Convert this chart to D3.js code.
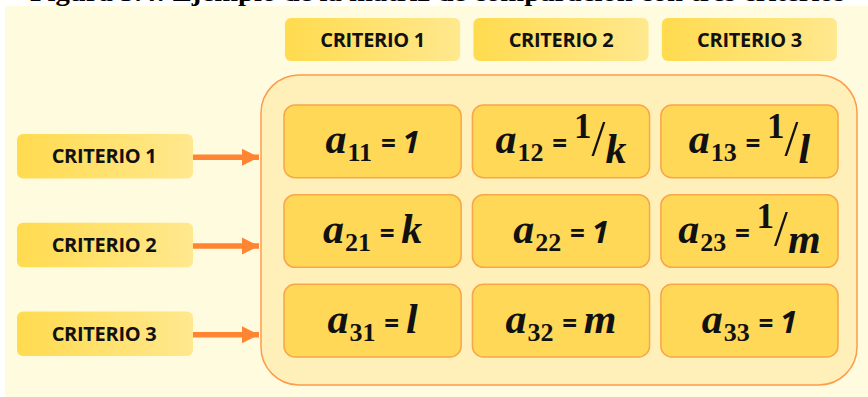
<!DOCTYPE html>
<html>
<head>
<meta charset="utf-8">
<script src="https://cdn.jsdelivr.net/npm/d3@7"></script>
<style>
  body { margin: 0; background: #fff; }
  svg { display: block; }
</style>
</head>
<body>
<div id="vis"></div>
<script>
// criteria names (column headers and row labels)
var criteria = ["CRITERIO 1", "CRITERIO 2", "CRITERIO 3"];

// matrix entries: row index, column index, value (numerator/denominator for fractions)
var cellRows = [1, 1, 1, 2, 2, 2, 3, 3, 3];
var cellCols = [1, 2, 3, 1, 2, 3, 1, 2, 3];
var cellNum  = ["1", "1", "1", "k", "1", "1", "l", "m", "1"];
var cellDen  = [null, "k", "l", null, null, "m", null, null, null];

var title = "Figura 3.4: Ejemplo de la matriz de comparación con tres criterios";

var width = 868, height = 397;

var svg = d3.select("#vis").append("svg")
    .attr("width", width)
    .attr("height", height);

var defs = svg.append("defs");
var grad = defs.append("linearGradient")
    .attr("id", "hdr")
    .attr("x1", "0%").attr("x2", "100%")
    .attr("y1", "0%").attr("y2", "0%");
grad.append("stop").attr("offset", "0%").attr("stop-color", "#ffdb4f");
grad.append("stop").attr("offset", "100%").attr("stop-color", "#ffe88e");

defs.append("marker")
    .attr("id", "arrow")
    .attr("viewBox", "0 0 10 10")
    .attr("refX", 10).attr("refY", 5)
    .attr("markerUnits", "userSpaceOnUse")
    .attr("markerWidth", 17).attr("markerHeight", 18)
    .attr("orient", "auto")
    .append("path")
    .attr("d", "M0,0L10,5L0,10Z")
    .attr("fill", "#ff8533");

// title, mostly cut off by the top edge
svg.append("text")
    .attr("x", 30)
    .attr("y", 1)
    .attr("textLength", 815)
    .attr("lengthAdjust", "spacingAndGlyphs")
    .style("font", "bold 25px 'Liberation Serif'")
    .style("fill", "#000")
    .text(title);

// cream panel
svg.append("rect")
    .attr("x", 5).attr("y", 6)
    .attr("width", width - 5).attr("height", height - 6)
    .attr("fill", "#fffbdf");

// scales
var x = d3.scaleBand()
    .domain([1, 2, 3])
    .range([284, 838])
    .paddingInner(0.06);

var y = d3.scaleBand()
    .domain([1, 2, 3])
    .range([105, 357])
    .paddingInner(0.19);

var yLab = d3.scaleBand()
    .domain([1, 2, 3])
    .range([134, 356])
    .paddingInner(0.5);

// outer rounded box around the matrix
svg.append("rect")
    .attr("x", 261).attr("y", 75)
    .attr("width", 596).attr("height", 310)
    .attr("rx", 38).attr("ry", 38)
    .attr("fill", "#fff0b9")
    .attr("stroke", "#ff9a4a")
    .attr("stroke-width", 1.5);

// column headers
var hdr = svg.selectAll(".hdr")
    .data(criteria)
    .enter().append("g")
    .attr("class", "hdr");

hdr.append("rect")
    .attr("x", function(d, i) { return x(i + 1) + 1; })
    .attr("y", 18)
    .attr("width", x.bandwidth() - 2)
    .attr("height", 43)
    .attr("rx", 6)
    .attr("fill", "url(#hdr)");

hdr.append("text")
    .attr("x", function(d, i) { return x(i + 1) + x.bandwidth() / 2; })
    .attr("y", 40)
    .attr("dy", "0.36em")
    .attr("text-anchor", "middle")
    .style("font", "bold 20px 'Open Sans'")
    .style("letter-spacing", "-0.3px")
    .style("fill", "#111")
    .text(function(d) { return d; });

// row labels with arrows
var lab = svg.selectAll(".lab")
    .data(criteria)
    .enter().append("g")
    .attr("class", "lab");

lab.append("rect")
    .attr("x", 17)
    .attr("y", function(d, i) { return yLab(i + 1); })
    .attr("width", 176)
    .attr("height", yLab.bandwidth())
    .attr("rx", 6)
    .attr("fill", "url(#hdr)");

lab.append("text")
    .attr("x", 104)
    .attr("y", function(d, i) { return yLab(i + 1) + yLab.bandwidth() / 2; })
    .attr("dy", "0.36em")
    .attr("text-anchor", "middle")
    .style("font", "bold 20px 'Open Sans'")
    .style("letter-spacing", "-0.3px")
    .style("fill", "#111")
    .text(function(d) { return d; });

lab.append("line")
    .attr("x1", 193)
    .attr("x2", 259)
    .attr("y1", function(d, i) { return yLab(i + 1) + yLab.bandwidth() / 2 + 1; })
    .attr("y2", function(d, i) { return yLab(i + 1) + yLab.bandwidth() / 2 + 1; })
    .attr("stroke", "#ff8533")
    .attr("stroke-width", 5.5)
    .attr("marker-end", "url(#arrow)");

// matrix cells
var cells = d3.range(cellRows.length).map(function(i) {
    return {r: cellRows[i], c: cellCols[i], num: cellNum[i], den: cellDen[i]};
});

var cell = svg.selectAll(".cell")
    .data(cells)
    .enter().append("g")
    .attr("class", "cell");

cell.append("rect")
    .attr("x", function(d) { return x(d.c); })
    .attr("y", function(d) { return y(d.r); })
    .attr("width", x.bandwidth())
    .attr("height", y.bandwidth())
    .attr("rx", 11)
    .attr("fill", "#ffd858")
    .attr("stroke", "#f9a54a")
    .attr("stroke-width", 1.5);

var mathFont = "'Liberation Serif'";
var sansFont = "'Open Sans'";

var label = cell.append("text")
    .attr("x", function(d) { return x(d.c) + x.bandwidth() / 2; })
    .attr("y", function(d) { return y(d.r) + y.bandwidth() / 2 + 12; })
    .attr("text-anchor", "middle")
    .style("fill", "#111");

label.append("tspan")
    .style("font", "italic bold 42px " + mathFont)
    .text("a");

label.append("tspan")
    .attr("dy", 8)
    .attr("dx", 1)
    .style("font", "bold 26px " + mathFont)
    .text(function(d) { return "" + d.r + d.c; });

label.append("tspan")
    .attr("dy", -8)
    .attr("dx", 2)
    .style("font", "bold 26px " + sansFont)
    .text(" = ");

label.each(function(d) {
    var t = d3.select(this);
    if (d.den === null) {
        if (d.num === "1") {
            t.append("tspan")
                .style("font", "italic bold 31px " + sansFont)
                .text(d.num);
        } else {
            t.append("tspan")
                .style("font", "italic bold 42px " + mathFont)
                .text(d.num);
        }
    } else {
        t.append("tspan")
            .attr("dy", -15)
            .style("font", "bold 35px " + mathFont)
            .text(d.num);
        t.append("tspan")
            .attr("dy", 17)
            .style("font", "50px " + mathFont)
            .text("/");
        t.append("tspan")
            .attr("dy", 8)
            .style("font", "italic bold 42px " + mathFont)
            .text(d.den);
    }
});
</script>
</body>
</html>
